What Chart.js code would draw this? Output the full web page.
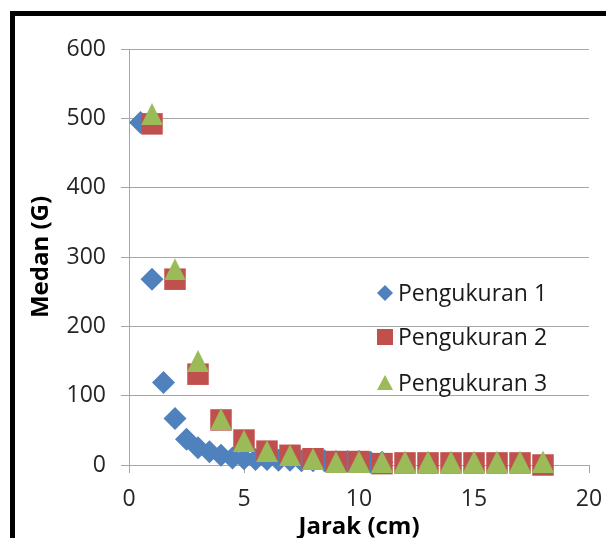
<!DOCTYPE html>
<html lang="en">

<head>
    <meta charset="UTF-8">
    <title>Medan vs Jarak</title>
    <script src="https://cdn.jsdelivr.net/npm/chart.js"></script>
    <style>
        body { margin: 0; overflow: hidden; background: #fff; }
        #frame {
            position: absolute; left: 10px; top: 11px; width: 700px; height: 700px;
            border-left: 5px solid #000; border-top: 5px solid #000; pointer-events: none;
        }
        #myChart { position: absolute; left: 0; top: 0; }
    </style>
</head>

<body>
    <canvas id="myChart" width="606" height="560"></canvas>
    <div id="frame"></div>

    <script>
        // data
        const seriesNames = ['Pengukuran 1', 'Pengukuran 2', 'Pengukuran 3'];

        const jarak1 = [0.5, 1, 1.5, 2, 2.5, 3, 3.5, 4, 4.5, 5, 5.5, 6, 6.5, 7, 7.5, 8, 8.5, 9, 9.5, 10, 10.5, 11];
        const medan1 = [494, 268, 119, 67, 37, 25, 19, 14, 10, 9, 8, 8, 7, 7, 6, 6, 6, 5, 5, 5, 4, 4];

        const jarak23 = [1, 2, 3, 4, 5, 6, 7, 8, 9, 10, 11, 12, 13, 14, 15, 16, 17, 18];
        const medan2 = [492, 268, 131, 65, 36, 20, 14, 9, 5, 5, 2, 3, 3, 3, 3, 3, 3, 0];
        const medan3 = [506, 282, 150, 66, 35, 20, 14, 9, 4, 5, 5, 5, 5, 5, 5, 5, 5, 5];

        const colors = ['#4F81BD', '#C0504D', '#9BBB59'];

        function toPoints(xs, ys) {
            return xs.map((x, i) => { return { x: x, y: ys[i] } });
        }

        // excel-like triangle marker (as tall as it is wide)
        function makeTriangle(size, color) {
            const c = document.createElement('canvas');
            c.width = size; c.height = size;
            const g = c.getContext('2d');
            g.fillStyle = color;
            g.beginPath();
            g.moveTo(size / 2, 0);
            g.lineTo(size, size);
            g.lineTo(0, size);
            g.closePath();
            g.fill();
            return c;
        }

        // legend drawn inside the plot, like the excel one
        const insideLegend = {
            id: 'insideLegend',
            afterDraw(chart) {
                const ctx = chart.ctx;
                const rows = [293, 337, 383];
                const mx = 385;
                ctx.save();
                ctx.font = '23px "Open Sans"';
                ctx.textBaseline = 'middle';
                chart.data.datasets.forEach((ds, i) => {
                    const y = rows[i];
                    ctx.fillStyle = colors[i];
                    ctx.beginPath();
                    if (i === 0) {
                        ctx.moveTo(mx - 8, y); ctx.lineTo(mx, y - 8); ctx.lineTo(mx + 8, y); ctx.lineTo(mx, y + 8);
                    } else if (i === 1) {
                        ctx.rect(mx - 8, y - 8, 16, 16);
                    } else {
                        ctx.moveTo(mx, y - 8); ctx.lineTo(mx + 8, y + 7); ctx.lineTo(mx - 8, y + 7);
                    }
                    ctx.closePath();
                    ctx.fill();
                    ctx.fillStyle = '#1a1a1a';
                    ctx.fillText(ds.label, 398, y + 1);
                });
                ctx.restore();
            }
        };

        Chart.defaults.font.family = '"Open Sans", sans-serif';
        Chart.defaults.font.size = 23;
        Chart.defaults.color = '#262626';

        const gridColor = '#a6a6a6';

        new Chart(document.getElementById('myChart'), {
            type: 'scatter',
            data: {
                datasets: [
                    {
                        label: seriesNames[0],
                        data: toPoints(jarak1, medan1),
                        pointStyle: 'rectRot',
                        pointRadius: 11.5,
                        pointBorderWidth: 0,
                        backgroundColor: colors[0],
                        borderColor: colors[0],
                        clip: false,
                        order: 3
                    },
                    {
                        label: seriesNames[1],
                        data: toPoints(jarak23, medan2),
                        pointStyle: 'rect',
                        pointRadius: 15.2,
                        pointBorderWidth: 0,
                        backgroundColor: colors[1],
                        borderColor: colors[1],
                        clip: false,
                        order: 2
                    },
                    {
                        label: seriesNames[2],
                        data: toPoints(jarak23, medan3),
                        pointStyle: makeTriangle(22, colors[2]),
                        pointRadius: 11,
                        backgroundColor: colors[2],
                        borderColor: colors[2],
                        clip: false,
                        order: 1
                    }
                ]
            },
            options: {
                responsive: false,
                animation: false,
                events: [],
                layout: { padding: { top: 49, right: 17, left: 0, bottom: 0 } },
                plugins: {
                    legend: { display: false },
                    tooltip: { enabled: false }
                },
                scales: {
                    x: {
                        type: 'linear',
                        min: 0,
                        max: 20,
                        ticks: { stepSize: 5, padding: 13 },
                        grid: { drawOnChartArea: false, tickLength: 8, color: gridColor },
                        border: { color: gridColor },
                        title: {
                            display: true,
                            text: 'Jarak (cm)',
                            font: { size: 24, weight: 'bold' },
                            color: '#000',
                            padding: { top: 0, bottom: 18 }
                        },
                        afterFit: (scale) => {
                            scale.height = 95;
                            scale.paddingLeft = 0;
                            scale.paddingRight = 0;
                        }
                    },
                    y: {
                        min: 0,
                        max: 600,
                        ticks: { stepSize: 100, padding: 15 },
                        grid: { tickLength: 8, color: gridColor },
                        border: { color: gridColor },
                        title: {
                            display: true,
                            text: 'Medan (G)',
                            font: { size: 24, weight: 'bold' },
                            color: '#000',
                            padding: { top: 27, bottom: 0 }
                        },
                        afterFit: (scale) => {
                            scale.width = 129;
                            scale.paddingTop = 0;
                            scale.paddingBottom = 0;
                        }
                    }
                }
            },
            plugins: [insideLegend]
        });
    </script>
</body>

</html>
